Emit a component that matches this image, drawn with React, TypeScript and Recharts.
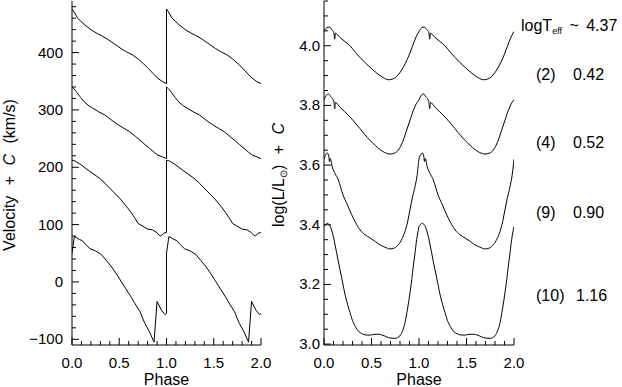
import { LineChart, Line, XAxis, YAxis } from 'recharts';

// phase axis (both panels)
const phaseTicks = [0, 0.1, 0.2, 0.3, 0.4, 0.5, 0.6, 0.7, 0.8, 0.9, 1.0, 1.1, 1.2, 1.3, 1.4, 1.5, 1.6, 1.7, 1.8, 1.9, 2.0];
const phaseLabels = [0, 0.5, 1.0, 1.5, 2.0];

// velocity axis
const velTicks = [-100, -80, -60, -40, -20, 0, 20, 40, 60, 80, 100, 120, 140, 160, 180, 200, 220, 240, 260, 280, 300, 320, 340, 360, 380, 400, 420, 440, 460, 480];
const velLabels = [-100, 0, 100, 200, 300, 400];

// log L axis
const lumTicks = [3.0, 3.05, 3.1, 3.15, 3.2, 3.25, 3.3, 3.35, 3.4, 3.45, 3.5, 3.55, 3.6, 3.65, 3.7, 3.75, 3.8, 3.85, 3.9, 3.95, 4.0, 4.05, 4.1, 4.15];
const lumLabels = [3.0, 3.2, 3.4, 3.6, 3.8, 4.0];

// model annotations
const modelIds = ['(2)', '(4)', '(9)', '(10)'];
const modelMass = ['0.42', '0.52', '0.90', '1.16'];
const logTeff = '4.37';

// one pulsation cycle each, [phase, velocity + C]
const vel2 = [[0, 476], [0.01, 474], [0.06, 460], [0.13, 449], [0.2, 440], [0.27, 433], [0.31, 430], [0.38, 423], [0.45, 415], [0.52, 407], [0.58, 401], [0.64, 396], [0.7, 389], [0.76, 380], [0.81, 372], [0.86, 363], [0.91, 355], [0.96, 349], [1.0, 346]];
const vel4 = [[0, 340], [0.02, 337], [0.05, 331], [0.09, 322], [0.13, 314], [0.18, 307], [0.22, 303], [0.28, 297], [0.35, 291], [0.42, 282], [0.49, 274], [0.55, 268], [0.61, 262], [0.67, 254], [0.72, 247], [0.77, 240], [0.82, 233], [0.87, 226], [0.91, 221], [0.96, 218], [1.0, 215]];
const vel9 = [[0, 212], [0.02, 212], [0.05, 209], [0.1, 204], [0.17, 195], [0.23, 188], [0.29, 181], [0.35, 172], [0.42, 160], [0.48, 150], [0.52, 143], [0.58, 131], [0.63, 120], [0.67, 110], [0.7, 102], [0.74, 98], [0.8, 92], [0.85, 91], [0.89, 87], [0.92, 82], [0.94, 80], [0.97, 85], [1.0, 86]];
const vel10 = [[0, 50], [0.025, 79], [0.05, 77], [0.08, 74], [0.11, 72], [0.14, 66], [0.19, 58], [0.25, 54], [0.31, 48], [0.36, 38], [0.42, 26], [0.47, 14], [0.52, 1], [0.57, -12], [0.62, -25], [0.66, -36], [0.72, -52], [0.77, -72], [0.82, -87], [0.868, -105], [0.9, -34], [0.945, -49], [0.985, -57], [1.0, -55]];

// one cycle each, [phase, log L + C], phase 0 <= p < 1
const lum2 = [[0, 4.048], [0.028, 4.06], [0.056, 4.063], [0.08, 4.055], [0.104, 4.044], [0.113, 4.022], [0.12, 4.042], [0.168, 4.028], [0.22, 4.014], [0.274, 4.0], [0.33, 3.978], [0.379, 3.961], [0.43, 3.944], [0.484, 3.928], [0.54, 3.912], [0.589, 3.9], [0.64, 3.89], [0.677, 3.886], [0.72, 3.888], [0.765, 3.897], [0.81, 3.915], [0.853, 3.939], [0.9, 3.972], [0.94, 4.006], [0.97, 4.03]];
const lum4 = [[0, 3.819], [0.025, 3.834], [0.046, 3.839], [0.07, 3.83], [0.104, 3.812], [0.113, 3.789], [0.12, 3.81], [0.168, 3.794], [0.22, 3.778], [0.274, 3.761], [0.33, 3.741], [0.379, 3.722], [0.43, 3.702], [0.484, 3.683], [0.54, 3.666], [0.589, 3.652], [0.64, 3.642], [0.695, 3.637], [0.74, 3.64], [0.782, 3.65], [0.83, 3.68], [0.87, 3.717], [0.91, 3.755], [0.94, 3.783], [0.97, 3.805]];
const lum9 = [[0, 3.62], [0.02, 3.636], [0.035, 3.641], [0.05, 3.63], [0.058, 3.612], [0.065, 3.622], [0.09, 3.59], [0.116, 3.572], [0.151, 3.55], [0.2, 3.5], [0.239, 3.472], [0.274, 3.446], [0.309, 3.422], [0.345, 3.4], [0.379, 3.383], [0.43, 3.367], [0.484, 3.356], [0.54, 3.344], [0.589, 3.333], [0.64, 3.325], [0.695, 3.319], [0.74, 3.322], [0.782, 3.333], [0.82, 3.352], [0.853, 3.378], [0.88, 3.41], [0.905, 3.45], [0.93, 3.49], [0.958, 3.528], [0.98, 3.565]];
const lum10 = [[0, 3.394], [0.02, 3.402], [0.035, 3.405], [0.05, 3.402], [0.063, 3.397], [0.08, 3.382], [0.098, 3.361], [0.115, 3.335], [0.133, 3.306], [0.15, 3.278], [0.168, 3.25], [0.186, 3.222], [0.204, 3.194], [0.22, 3.168], [0.239, 3.144], [0.256, 3.124], [0.274, 3.106], [0.29, 3.088], [0.309, 3.072], [0.335, 3.056], [0.361, 3.044], [0.4, 3.035], [0.432, 3.031], [0.48, 3.03], [0.537, 3.033], [0.575, 3.033], [0.607, 3.031], [0.64, 3.027], [0.677, 3.022], [0.715, 3.02], [0.747, 3.019], [0.775, 3.022], [0.8, 3.028], [0.828, 3.045], [0.853, 3.072], [0.88, 3.12], [0.905, 3.172], [0.925, 3.22], [0.94, 3.261], [0.958, 3.305], [0.975, 3.35], [0.988, 3.375]];

// the same cycle is plotted twice, phase 0-1 and 1-2
const velCurve = (cyc: number[][]) => [
  ...cyc.map(([p, v]) => ({ x: p, y: v })),
  ...cyc.map(([p, v]) => ({ x: p + 1, y: v })),
];
const lumCurve = (cyc: number[][]) => [
  ...cyc.map(([p, v]) => ({ x: p, y: v })),
  ...cyc.map(([p, v]) => ({ x: p + 1, y: v })),
  { x: 2, y: cyc[0][1] },
];

const FONT = '"Liberation Sans", Arial, Helvetica, sans-serif';
const near = (a: number, b: number) => Math.abs(a - b) < 1e-6;

const makeTick = (side: string, labels: number[], fmt: (v: number) => string) => (props: any) => {
  const { x, y, payload } = props;
  const v = payload.value;
  const major = labels.some((l) => near(l, v));
  const len = major ? 7 : 4;
  let line = null;
  let label = null;
  if (side === 'left') {
    line = <line x1={x} y1={y} x2={x + len} y2={y} stroke="#000" />;
    if (major) label = <text x={x - props.gap} y={y + 5} textAnchor="end" fontSize={15} fontFamily={FONT} fill="#000">{fmt(v)}</text>;
  } else if (side === 'right') {
    line = <line x1={x} y1={y} x2={x - len} y2={y} stroke="#000" />;
  } else if (side === 'top') {
    line = <line x1={x} y1={y} x2={x} y2={y + len} stroke="#000" />;
  } else {
    line = <line x1={x} y1={y} x2={x} y2={y - len} stroke="#000" />;
    if (major) label = <text x={x} y={y + 23} textAnchor="middle" fontSize={15} fontFamily={FONT} fill="#000">{fmt(v)}</text>;
  }
  return <g>{line}{label}</g>;
};

const fmtPhase = (v: number) => v.toFixed(1);
const fmtVel = (v: number) => (v < 0 ? '\u2212' + Math.abs(v) : String(v));
const fmtLum = (v: number) => v.toFixed(1);

const axisCommon = {
  tickSize: 0,
  tickMargin: 0,
  tickLine: false,
  interval: 0 as const,
  axisLine: { stroke: '#000' },
  allowDataOverflow: true,
};

function Panel(props: { width: number; yWidth: number; right: number; yTicks: number[]; yLabels: number[]; domain: number[]; fmt: (v: number) => string; gap: number; curves: { x: number; y: number }[][]; curveType: 'linear' | 'monotoneX' }) {
  const leftTick = makeTick('left', props.yLabels, props.fmt);
  return (
    <LineChart width={props.width} height={387} margin={{ top: 1, right: props.right, bottom: 0, left: 0 }}>
      <XAxis xAxisId="bottom" type="number" dataKey="x" domain={[0, 2]} ticks={phaseTicks} height={42} {...axisCommon} tick={makeTick('bottom', phaseLabels, fmtPhase)} />
      <XAxis xAxisId="top" orientation="top" type="number" dataKey="x" domain={[0, 2]} ticks={phaseTicks} height={0} {...axisCommon} tick={makeTick('top', phaseLabels, fmtPhase)} />
      <YAxis yAxisId="left" type="number" domain={props.domain} ticks={props.yTicks} width={props.yWidth} {...axisCommon} tick={(p: any) => leftTick({ ...p, gap: props.gap })} />
      <YAxis yAxisId="right" orientation="right" type="number" domain={props.domain} ticks={props.yTicks} width={0} {...axisCommon} tick={makeTick('right', props.yLabels, props.fmt)} />
      {props.curves.map((d, i) => (
        <Line key={i} xAxisId="bottom" yAxisId="left" data={d} dataKey="y" type={props.curveType} stroke="#000" strokeWidth={1} dot={false} isAnimationActive={false} />
      ))}
    </LineChart>
  );
}

export default function App() {
  const textStyle = { fontFamily: FONT, fill: '#000' };
  const rowY = [80, 148, 218, 301];
  return (
    <div style={{ position: 'absolute', left: 0, top: 0, width: 622, height: 387, background: '#fff' }}>
      <div style={{ position: 'absolute', left: 0, top: 0 }}>
        <Panel width={280} yWidth={72} right={19} yTicks={velTicks} yLabels={velLabels} domain={[-110, 490]} fmt={fmtVel} gap={9}
          curves={[velCurve(vel2), velCurve(vel4), velCurve(vel9), velCurve(vel10)]} curveType="linear" />
      </div>
      <div style={{ position: 'absolute', left: 262, top: 0 }}>
        <Panel width={272} yWidth={62} right={20} yTicks={lumTicks} yLabels={lumLabels} domain={[2.997, 4.15]} fmt={fmtLum} gap={4}
          curves={[lumCurve(lum2), lumCurve(lum4), lumCurve(lum9), lumCurve(lum10)]} curveType="monotoneX" />
      </div>
      <svg width={622} height={387} style={{ position: 'absolute', left: 0, top: 0, pointerEvents: 'none' }}>
        <text transform="translate(15,175) rotate(-90)" textAnchor="middle" fontSize={16} style={{ ...textStyle, wordSpacing: 6 }}>
          Velocity + <tspan fontStyle="italic">C</tspan> (km/s)
        </text>
        <text transform="translate(284,175) rotate(-90)" textAnchor="middle" fontSize={16} style={{ ...textStyle, wordSpacing: 6 }}>
          log(L/L<tspan dy={3} fontSize={10}>⊙</tspan><tspan dy={-3}>) + </tspan><tspan fontStyle="italic">C</tspan>
        </text>
        <text x={166.5} y={385} textAnchor="middle" fontSize={16} style={textStyle}>Phase</text>
        <text x={419} y={385} textAnchor="middle" fontSize={16} style={textStyle}>Phase</text>
        <text x={521} y={31} fontSize={16} style={{ ...textStyle, wordSpacing: 3 }}>
          logT<tspan dy={3} fontSize={9}>eff</tspan><tspan dy={-3}> ~ {logTeff}</tspan>
        </text>
        {modelIds.map((id, i) => (
          <g key={id}>
            <text x={536} y={rowY[i]} fontSize={16} style={textStyle}>{id}</text>
            <text x={id.length > 3 ? 576 : 573} y={rowY[i]} fontSize={16} style={textStyle}>{modelMass[i]}</text>
          </g>
        ))}
      </svg>
    </div>
  );
}
